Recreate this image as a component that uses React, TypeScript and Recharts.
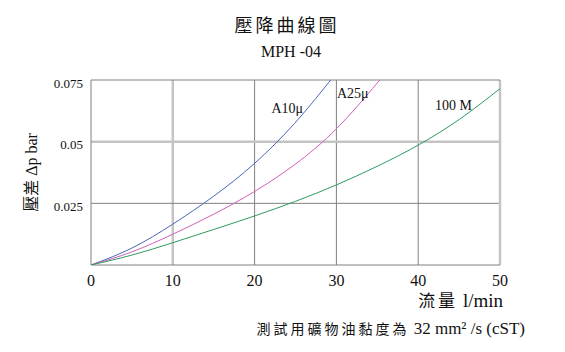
import React from "react";
import {
  LineChart,
  Line,
  XAxis,
  YAxis,
  ReferenceLine,
  ReferenceDot,
} from "recharts";

// flow (l/min) and pressure drop (bar)
const a10Flow = [0, 5, 10, 15, 20, 25, 29.3];
const a10Dp = [0, 0.0062, 0.0164, 0.0276, 0.0406, 0.0572, 0.075];

const a25Flow = [0, 5, 10, 15, 20, 25, 30, 35.3];
const a25Dp = [0, 0.0049, 0.0124, 0.0204, 0.0295, 0.0405, 0.0542, 0.075];

const m100Flow = [0, 5, 10, 15, 20, 25, 30, 35, 40, 45, 50];
const m100Dp = [0, 0.0038, 0.009, 0.0144, 0.0198, 0.0257, 0.0323, 0.0399, 0.0483, 0.0585, 0.0715];

const xTicks = [0, 10, 20, 30, 40, 50];
const leftTicks = [0.025, 0.05, 0.075];
const rightTicks = [0.25, 0.5, 0.75];

const seriesNames = ["A10μ", "A25μ", "100 M"];
const labelFlow = [24.0, 32.0, 44.3];
const labelDp = [0.0638, 0.0699, 0.065];

const zip = (q: number[], v: number[]) => q.map((x, i) => ({ q: x, v: v[i] }));

const SERIF = "'Liberation Serif', 'Times New Roman', 'Noto Sans CJK TC', serif";
const CJK = "'Noto Sans CJK TC', serif";
const DARK = "#808080";
const LIGHT = "#c4c4c4";

const colors = ["#4a66b8", "#cc5fb8", "#2f9a5c"];

export default function App() {
  const series = [zip(a10Flow, a10Dp), zip(a25Flow, a25Dp), zip(m100Flow, m100Dp)];

  return (
    <div
      style={{
        position: "absolute",
        left: 0,
        top: 0,
        width: 565,
        height: 352,
        background: "#fff",
        fontFamily: SERIF,
        color: "#111",
      }}
    >
      <div
        style={{
          position: "absolute",
          left: 287,
          top: 10,
          transform: "translateX(-50%)",
          whiteSpace: "nowrap",
          fontSize: 18,
          letterSpacing: 3,
          lineHeight: "28px",
          fontFamily: CJK,
        }}
      >
        壓降曲線圖
      </div>
      <div
        style={{
          position: "absolute",
          left: 291,
          top: 41,
          transform: "translateX(-50%)",
          whiteSpace: "nowrap",
          fontSize: 16,
          lineHeight: "22px",
        }}
      >
        MPH -04
      </div>

      <LineChart
        width={565}
        height={352}
        margin={{ top: 80, right: 0, bottom: 57, left: 0 }}
        style={{ position: "absolute", left: 0, top: 0 }}
      >
        <XAxis
          dataKey="q"
          type="number"
          domain={[0, 50]}
          ticks={xTicks}
          axisLine={false}
          tickLine={false}
          height={30}
          tick={{ fontSize: 16, fill: "#111", fontFamily: SERIF, dy: 2 }}
          allowDuplicatedCategory={false}
        />
        <YAxis
          yAxisId="left"
          domain={[0, 0.075]}
          ticks={leftTicks}
          allowDataOverflow
          axisLine={false}
          tickLine={false}
          width={91}
          tick={{ fontSize: 13, fill: "#111", fontFamily: SERIF, dy: 3 }}
          label={{
            value: "壓差 Δp bar",
            angle: -90,
            position: "insideLeft",
            offset: 31,
            style: { fontSize: 16, fill: "#111", fontFamily: SERIF, textAnchor: "middle" },
          }}
        />
        <YAxis
          yAxisId="right"
          orientation="right"
          domain={[0, 0.75]}
          ticks={rightTicks}
          axisLine={false}
          tickLine={false}
          width={65}
          tick={{ fontSize: 13, fill: "#111", fontFamily: SERIF, dy: 3, dx: 2 }}
        />

        {/* grid: light heavy lines alternate with dark thin ones */}
        <ReferenceLine yAxisId="left" x={10} stroke={LIGHT} strokeWidth={2.5} />
        <ReferenceLine yAxisId="left" x={20} stroke={DARK} strokeWidth={1} />
        <ReferenceLine yAxisId="left" x={30} stroke={DARK} strokeWidth={1} />
        <ReferenceLine yAxisId="left" x={40} stroke={DARK} strokeWidth={1} />
        <ReferenceLine yAxisId="left" y={0.025} stroke={DARK} strokeWidth={1} />
        <ReferenceLine yAxisId="left" y={0.05} stroke={LIGHT} strokeWidth={2.5} />
        <ReferenceLine yAxisId="left" x={50} stroke={LIGHT} strokeWidth={2.5} />
        <ReferenceLine yAxisId="left" y={0.075} stroke={DARK} strokeWidth={1} />
        <ReferenceLine yAxisId="left" x={0} stroke={DARK} strokeWidth={1} />
        <ReferenceLine yAxisId="left" y={0} stroke={DARK} strokeWidth={1} />

        {series.map((d, i) => (
          <Line
            key={seriesNames[i]}
            yAxisId="left"
            data={d}
            dataKey="v"
            type="basis"
            stroke={colors[i]}
            strokeWidth={1}
            dot={false}
            activeDot={false}
            isAnimationActive={false}
          />
        ))}

        {seriesNames.map((name, i) => (
          <ReferenceDot
            key={name}
            yAxisId="left"
            x={labelFlow[i]}
            y={labelDp[i]}
            r={0}
            fill="none"
            stroke="none"
            label={{
              value: name,
              position: "center",
              style: { fontSize: 14, fill: "#111", fontFamily: SERIF },
            }}
          />
        ))}
      </LineChart>

      <div
        style={{
          position: "absolute",
          right: 62,
          top: 290,
          fontSize: 19,
          lineHeight: "20px",
          whiteSpace: "nowrap",
        }}
      >
        <span style={{ fontFamily: CJK, fontSize: 17, letterSpacing: 3 }}>流量</span> l/min
      </div>
      <div
        style={{
          position: "absolute",
          right: 40,
          top: 318,
          fontSize: 17,
          lineHeight: "20px",
          whiteSpace: "nowrap",
        }}
      >
        <span style={{ fontFamily: CJK, fontSize: 14, letterSpacing: 3 }}>測試用礦物油黏度為</span> 32 mm² /s (cST)
      </div>
    </div>
  );
}
